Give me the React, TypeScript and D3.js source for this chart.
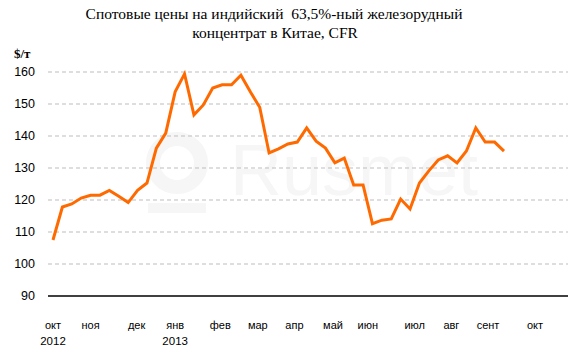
import React from "react";
import * as d3 from "d3";

const values: number[] = [
  107.5, 117.8, 118.75, 120.6, 121.5, 121.5, 123, 121.2, 119.2, 123, 125.3,
  136.2, 140.9, 153.8, 159.4, 146.6, 149.7, 155, 156, 156, 159, 153.8, 149,
  134.7, 136, 137.5, 138.1, 142.5, 138.4, 136.2, 131.6, 133.1, 124.7, 124.7,
  112.6, 113.7, 114.1, 120.3, 117.2, 125.3, 129.1, 132.5, 133.8, 131.6, 135.3,
  142.5, 138.1, 138.1, 135.3,
];

const monthLabels: string[] = ["окт", "ноя", "дек", "янв", "фев", "мар", "апр", "май", "июн", "июл", "авг", "сент", "окт"];
const monthAt: number[] = [0, 4, 8.9, 13, 17.8, 21.8, 25.7, 29.8, 33.5, 38.5, 42.4, 46.3, 51.3];
const yearLabels: string[] = ["2012", "2013"];
const yearAt: number[] = [0, 13];
const yTicks: number[] = [90, 100, 110, 120, 130, 140, 150, 160];

const W = 568;
const H = 354;
const plotLeft = 48;
const plotRight = 568;

export default function App() {
  const x = d3.scaleLinear().domain([0, 48]).range([53, 504]);
  const y = d3.scaleLinear().domain([90, 160]).range([296, 72]);
  const line = d3
    .line<number>()
    .x((_, i) => x(i))
    .y((d) => y(d));
  const sans = "'Liberation Sans', Arial, sans-serif";
  const serif = "'Liberation Serif', 'DejaVu Serif', serif";
  return (
    <svg width={W} height={H} style={{ position: "absolute", left: 0, top: 0, background: "#fff" }}>
      <rect width={W} height={H} fill="#fff" />
      {/* watermark */}
      <g fill="#f6f6f6" stroke="none">
        <circle cx={177} cy={163} r={24} fill="none" stroke="#f6f6f6" strokeWidth={14} />
        <rect x={148} y={203} width={58} height={10} />
        <text x={230} y={195} fontFamily={sans} fontSize={72}>Rusmet</text>
      </g>
      <text x={274} y={19} textAnchor="middle" fontFamily={serif} fontSize={15.5} fill="#000" style={{ whiteSpace: "pre" }}>
        {"Спотовые цены на индийский \u00a063,5%-ный железорудный"}
      </text>
      <text x={275} y={38} textAnchor="middle" fontFamily={serif} fontSize={15.5} fill="#000">
        концентрат в Китае, CFR
      </text>
      <text x={14} y={58} fontFamily={serif} fontSize={13} fontWeight="bold" fill="#000">$/т</text>
      {yTicks.map((t) => (
        <g key={t}>
          {t === 90 ? (
            <line x1={plotLeft} x2={plotRight} y1={y(t)} y2={y(t)} stroke="#000" strokeWidth={1.5} />
          ) : (
            <line x1={plotLeft} x2={plotRight} y1={y(t)} y2={y(t)} stroke="#bdbdbd" strokeWidth={1} strokeDasharray="4,3" />
          )}
          <text x={35} y={y(t)} dy="0.35em" textAnchor="end" fontFamily={sans} fontSize={12.5} fill="#000">
            {t}
          </text>
        </g>
      ))}
      <path d={line(values) || ""} fill="none" stroke="#ff6a00" strokeWidth={3} strokeLinejoin="miter" />
      {monthLabels.map((m, i) => (
        <text key={i} x={x(monthAt[i])} y={329} textAnchor="middle" fontFamily={sans} fontSize={11} fill="#000">
          {m}
        </text>
      ))}
      {yearLabels.map((yl, i) => (
        <text key={yl} x={x(yearAt[i])} y={345} textAnchor="middle" fontFamily={sans} fontSize={11.5} fill="#000">
          {yl}
        </text>
      ))}
    </svg>
  );
}
